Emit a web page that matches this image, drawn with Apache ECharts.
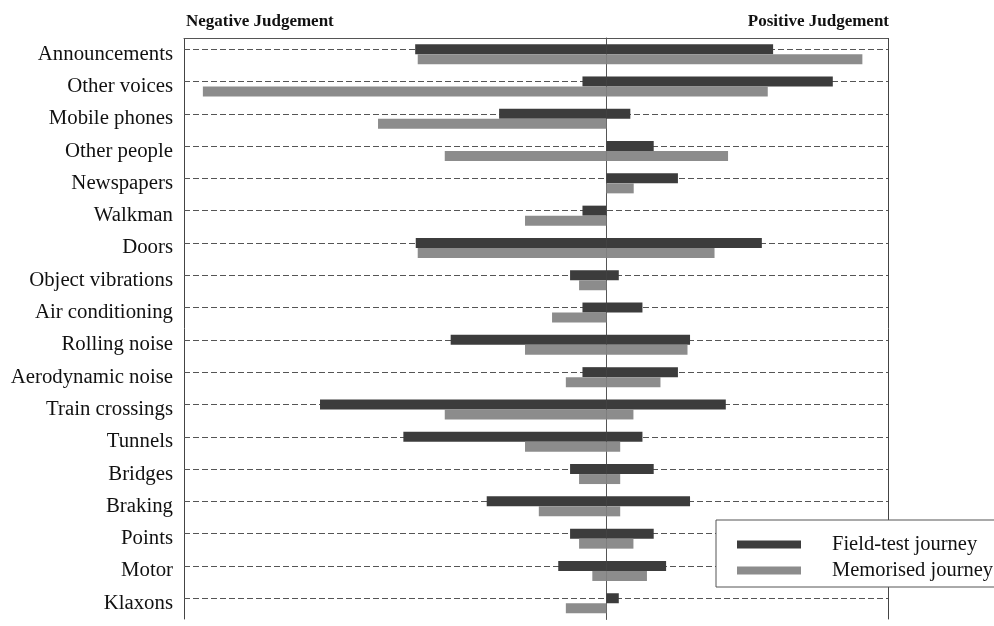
<!DOCTYPE html>
<html>
<head>
<meta charset="utf-8">
<script src="https://cdn.jsdelivr.net/npm/echarts@6/dist/echarts.min.js"></script>
<style>html,body{margin:0;padding:0;background:#fff;}#c{width:994px;height:626px;}</style>
</head>
<body>
<div id="c"></div>
<script>
var categories = ['Announcements','Other voices','Mobile phones','Other people','Newspapers','Walkman','Doors','Object vibrations','Air conditioning','Rolling noise','Aerodynamic noise','Train crossings','Tunnels','Bridges','Braking','Points','Motor','Klaxons'];
var fieldNeg = [-6.79, -0.85, -3.81, 0, 0, -0.85, -6.77, -1.29, -0.85, -5.53, -0.85, -10.17, -7.21, -1.29, -4.25, -1.29, -1.71, 0];
var fieldPos = [5.92, 8.04, 0.85, 1.68, 2.54, 0, 5.52, 0.44, 1.28, 2.97, 2.54, 4.24, 1.28, 1.68, 2.97, 1.68, 2.12, 0.44];
var memNeg = [-6.70, -14.33, -8.11, -5.74, 0, -2.89, -6.70, -0.97, -1.93, -2.89, -1.44, -5.74, -2.89, -0.97, -2.40, -0.97, -0.50, -1.44];
var memPos = [9.09, 5.73, 0, 4.32, 0.97, 0, 3.84, 0, 0, 2.88, 1.92, 0.96, 0.49, 0.49, 0.49, 0.96, 1.44, 0];
var seriesNames = ['Field-test journey', 'Memorised journey'];
var headings = ['Negative Judgement', 'Positive Judgement'];

var SERIF = '"Liberation Serif", "DejaVu Serif", serif';
var DARK = '#3c3c3c', LIGHT = '#8c8c8c';

var chart = echarts.init(document.getElementById('c'), null, {renderer: 'canvas'});
var barCommon = {type: 'bar', barWidth: 10, barGap: '0%', silent: true};
var option = {
  animation: false,
  backgroundColor: '#fff',
  title: [
    {text: headings[0], left: 186, top: 13, padding: 0, textStyle: {fontFamily: SERIF, fontWeight: 'bold', fontSize: 17, color: '#111'}},
    {text: headings[1], right: 105, top: 13, padding: 0, textStyle: {fontFamily: SERIF, fontWeight: 'bold', fontSize: 17, color: '#111'}}
  ],
  grid: {left: 184, right: 106, top: 38, bottom: 6.6, containLabel: false},
  xAxis: {
    type: 'value', position: 'top', min: -15, max: 10, interval: 15,
    axisLine: {show: true, onZero: false, lineStyle: {color: '#555', width: 1}},
    axisTick: {show: false}, axisLabel: {show: false},
    splitLine: {show: true, lineStyle: {color: '#444', width: 1}}
  },
  yAxis: {
    type: 'category', inverse: true, data: categories,
    axisLine: {show: true, lineStyle: {color: '#555', width: 1}},
    axisTick: {show: false},
    axisLabel: {fontFamily: SERIF, fontSize: 20.8, color: '#111', margin: 11},
    splitLine: {show: false}
  },
  legend: {
    data: seriesNames, orient: 'vertical', left: 716, top: 520,
    padding: [14, 4, 6, 21], itemGap: 5, itemWidth: 64, itemHeight: 8, icon: 'rect',
    backgroundColor: '#fff', borderColor: '#555', borderWidth: 1,
    textStyle: {fontFamily: SERIF, fontSize: 20.5, color: '#111', padding: [0, 0, 0, 26]},
    selectedMode: false
  },
  series: [
    Object.assign({}, barCommon, {name: seriesNames[0], stack: 'field', data: fieldNeg, itemStyle: {color: DARK},
      markLine: {silent: true, symbol: 'none', z: 1, label: {show: false},
        lineStyle: {color: '#555', type: [6, 3], width: 1},
        data: categories.map(function (c) { return {yAxis: c}; })}}),
    Object.assign({}, barCommon, {name: seriesNames[0], stack: 'field', data: fieldPos, itemStyle: {color: DARK}}),
    Object.assign({}, barCommon, {name: seriesNames[1], stack: 'mem', data: memNeg, itemStyle: {color: LIGHT}}),
    Object.assign({}, barCommon, {name: seriesNames[1], stack: 'mem', data: memPos, itemStyle: {color: LIGHT}})
  ]
};
chart.setOption(option);
</script>
</body>
</html>
